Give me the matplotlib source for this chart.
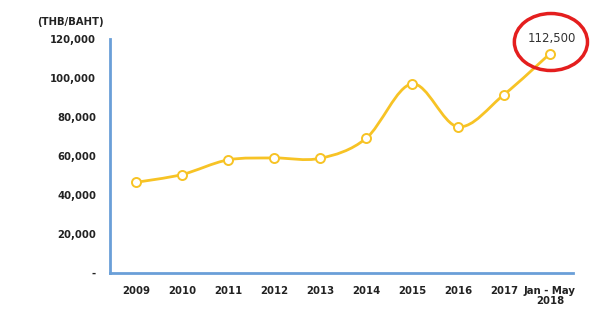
import matplotlib
matplotlib.use("Agg")
import matplotlib.pyplot as plt
from matplotlib.path import Path
from matplotlib.patches import PathPatch, Ellipse
import numpy as np

categories = ["2009", "2010", "2011", "2012", "2013", "2014", "2015", "2016", "2017", "Jan - May\n2018"]
values = [46500, 50500, 58000, 59000, 58800, 69000, 97000, 75000, 91500, 112500]
ytick_vals = [0, 20000, 40000, 60000, 80000, 100000, 120000]
ytick_labels = ["-", "20,000", "40,000", "60,000", "80,000", "100,000", "120,000"]
annot_label = "112,500"

line_color = "#F7C325"
axis_color = "#6A9FD8"

fig = plt.figure(figsize=(5.98, 3.31), dpi=100)
ax = fig.add_axes([110/598, 58/331, 463/598, 234/331])

x = np.arange(len(values), dtype=float)
y = np.array(values, dtype=float)

# smooth curve via Catmull-Rom -> cubic Bezier
verts = [(x[0], y[0])]
codes = [Path.MOVETO]
n = len(x)
for i in range(n - 1):
    p0 = (x[max(i-1, 0)], y[max(i-1, 0)])
    p1 = (x[i], y[i])
    p2 = (x[i+1], y[i+1])
    p3 = (x[min(i+2, n-1)], y[min(i+2, n-1)])
    t = 1/6
    c1 = (p1[0] + (p2[0]-p0[0])*t, p1[1] + (p2[1]-p0[1])*t)
    c2 = (p2[0] - (p3[0]-p1[0])*t, p2[1] - (p3[1]-p1[1])*t)
    verts += [c1, c2, p2]
    codes += [Path.CURVE4]*3
patch = PathPatch(Path(verts, codes), facecolor="none", edgecolor=line_color, lw=2.0, zorder=2)
ax.add_patch(patch)
ax.plot(x, y, linestyle="none", marker="o", markersize=6.5, markerfacecolor="white",
        markeredgecolor=line_color, markeredgewidth=1.4, zorder=3)

ax.set_xlim(-0.565, 9.5)
ax.set_ylim(0, 120000)
ax.set_xticks(x)
ax.set_xticklabels(categories, fontsize=7.3, fontweight="bold", color="#222222")
ax.set_yticks(ytick_vals)
ax.set_yticklabels(ytick_labels, fontsize=7.3, fontweight="bold", color="#222222")
ax.tick_params(axis="both", length=0)
ax.tick_params(axis="y", pad=10)
ax.tick_params(axis="x", pad=9)
for lab in ax.get_xticklabels():
    lab.set_linespacing(1.1)
    lab.set_verticalalignment("top")

for s in ["top", "right"]:
    ax.spines[s].set_visible(False)
for s in ["left", "bottom"]:
    ax.spines[s].set_color(axis_color)
    ax.spines[s].set_linewidth(2.0)

fig.text(70/598, 1 - 22/331, "(THB/BAHT)", fontsize=7.3, fontweight="bold",
         ha="center", va="center", color="#222222")

ax.text(x[-1] + 0.04, 120500, annot_label, fontsize=8.5, ha="center", va="center",
        color="#333333", clip_on=False)
ell = Ellipse((x[-1] + 0.02, 118460), width=1.59, height=29230, facecolor="none",
              edgecolor="#E41E1E", lw=2.5, clip_on=False, zorder=4)
ax.add_patch(ell)

fig.savefig("out.png", dpi=100)
